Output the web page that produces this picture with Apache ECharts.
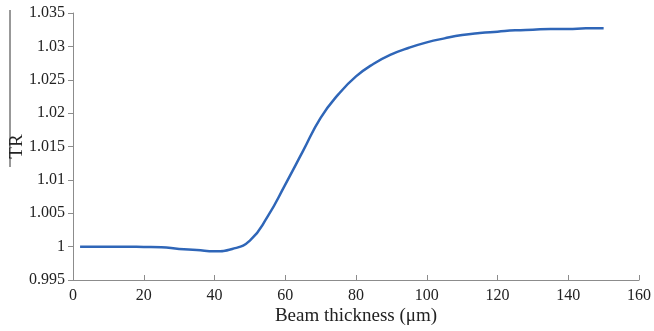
<!DOCTYPE html>
<html>
<head>
<meta charset="utf-8">
<script src="https://cdn.jsdelivr.net/npm/echarts@6/dist/echarts.min.js"></script>
<style>html,body{margin:0;padding:0;background:#fff}#c{width:654px;height:331px}</style>
</head>
<body>
<div id="c"></div>
<script>
var thickness = [2,5,10,15,20,25,30,35,40,45,50,55,60,65,70,75,80,85,90,95,100,105,110,115,120,125,130,135,140,145,150];
var trValues = [1.0000,1.0000,1.0000,1.0000,0.99995,0.9999,0.99965,0.9995,0.9993,0.99965,1.0009,1.0045,1.0093,1.0143,1.0193,1.0228,1.0255,1.0274,1.0288,1.0298,1.0306,1.0312,1.0317,1.0320,1.0322,1.0324,1.0325,1.0326,1.0326,1.0327,1.0327];
var xTicks = {min: 0, max: 160, interval: 20};
var yTicks = {min: 0.995, max: 1.035, interval: 0.005};

var chart = echarts.init(document.getElementById('c'));
var font = 'Liberation Serif';
var axisCol = '#8c8c8c';
chart.setOption({
  animation: false,
  grid: {left: 73, right: 15, top: 13, bottom: 51, outerBoundsMode: 'none', containLabel: false},
  xAxis: {
    type: 'value', min: xTicks.min, max: xTicks.max, interval: xTicks.interval,
    name: 'Beam thickness (μm)', nameLocation: 'middle', nameGap: 27, nameMoveOverlap: false,
    nameTextStyle: {fontFamily: font, fontSize: 19, color: '#222'},
    axisLine: {lineStyle: {color: axisCol, width: 1}},
    axisTick: {inside: true, length: 5, lineStyle: {color: axisCol}},
    axisLabel: {fontFamily: font, fontSize: 16, color: '#222', margin: 8},
    splitLine: {show: false}
  },
  yAxis: {
    type: 'value', min: yTicks.min, max: yTicks.max, interval: yTicks.interval,
    name: 'TR', nameLocation: 'middle', nameGap: 46, nameMoveOverlap: false,
    nameTextStyle: {fontFamily: font, fontSize: 19, color: '#222'},
    axisLine: {show: true, lineStyle: {color: axisCol, width: 1}},
    axisTick: {show: true, inside: false, length: 5, lineStyle: {color: axisCol}},
    axisLabel: {fontFamily: font, fontSize: 16, color: '#222', margin: 8,
      formatter: function (v) { return String(parseFloat(v.toFixed(3))); }},
    splitLine: {show: false}
  },
  graphic: [{
    type: 'line', shape: {x1: 10, y1: 10, x2: 10, y2: 167},
    style: {stroke: '#333', lineWidth: 1}
  }],
  series: [{
    type: 'line', smooth: true, symbol: 'none',
    data: thickness.map(function (t, i) { return [t, trValues[i]]; }),
    lineStyle: {color: '#2f66b8', width: 2.5}
  }]
});
</script>
</body>
</html>
